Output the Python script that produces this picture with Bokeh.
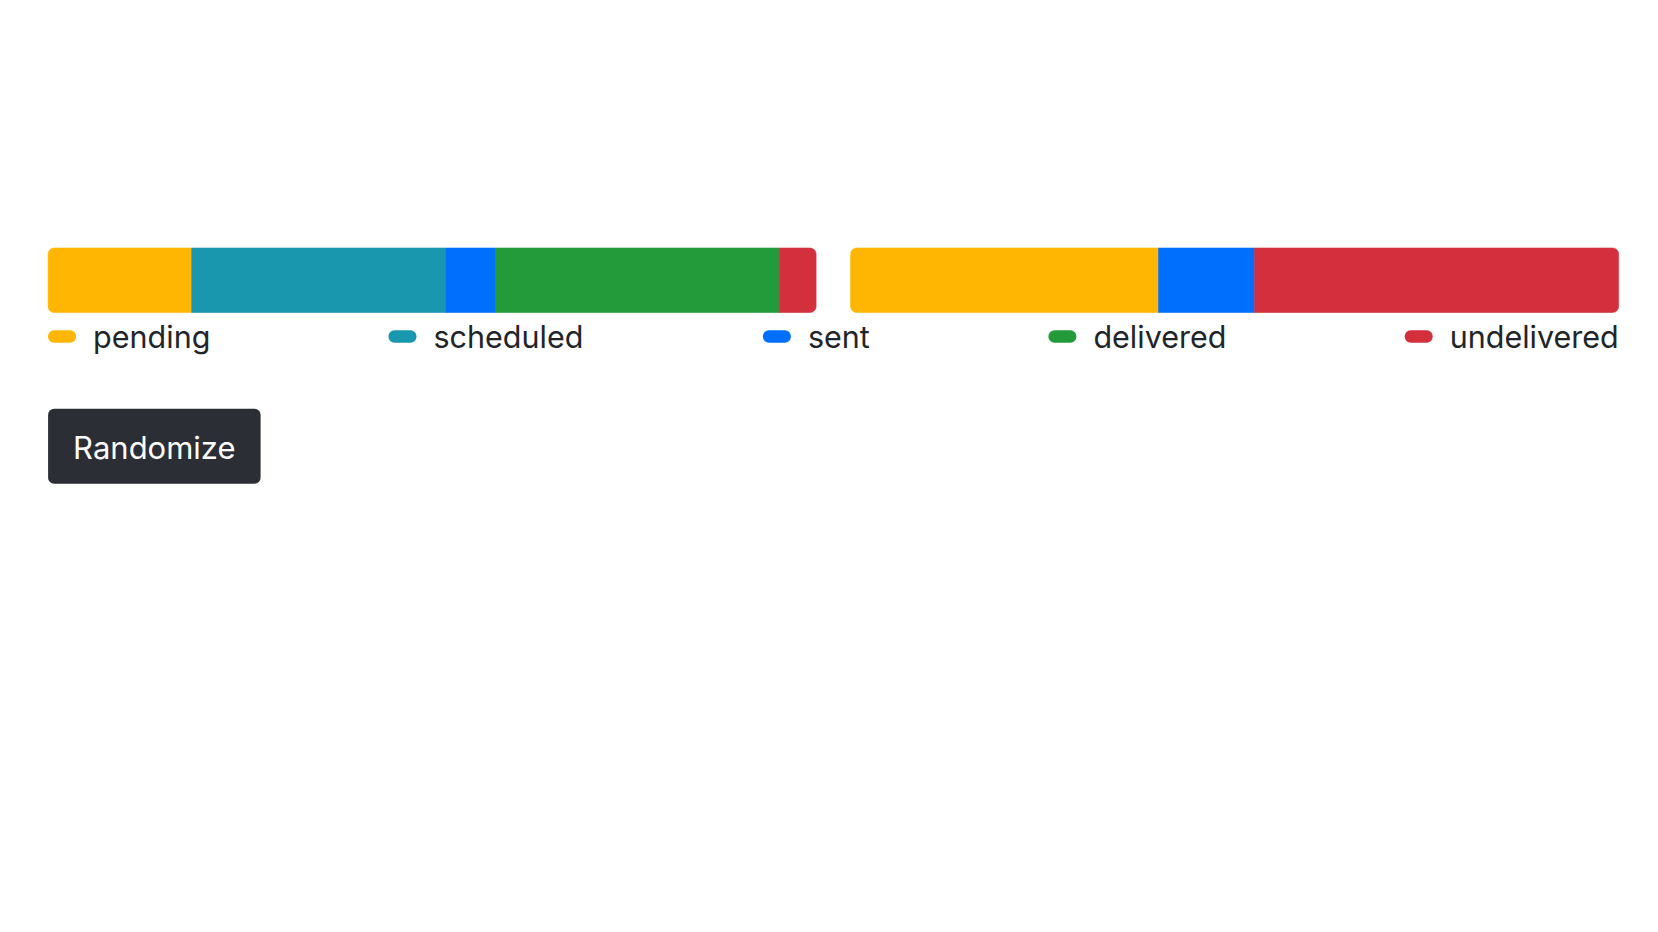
from bokeh.plotting import figure
from bokeh.models import Range1d, ColumnDataSource
from bokeh.core.properties import value
from bokeh.embed import file_html
from bokeh.resources import INLINE
import numpy as np

# ---- data ----
statuses = ["pending", "scheduled", "sent", "delivered", "undelivered"]
colors = ["#FEB602", "#1897AE", "#006FFD", "#239B3B", "#D32F3C"]
batch_a = [18.7, 33.1, 6.5, 36.9, 4.8]
batch_b = [40.1, 0.0, 12.5, 0.0, 47.4]
batches = [batch_a, batch_b]
button_label = "Randomize"

# ---- layout (pixels) ----
W, H = 1658, 932
bar_lefts = [47.6, 850.1]
bar_width = 768.0
bar_top, bar_bottom = 247.5, 312.0
radius = 6
legend_x = [47.6, 388.0, 762.4, 1047.9, 1404.2]
legend_y = 336.0
marker_w, marker_h = 28.0, 12.5
text_gap = 45.0
btn_left, btn_right, btn_top, btn_bottom = 47.6, 260.1, 408.2, 483.2

p = figure(width=W, height=H, output_backend="svg", toolbar_location=None,
           x_range=Range1d(0, W), y_range=Range1d(H, 0),
           x_axis_location=None, y_axis_location=None, min_border=0)
p.grid.visible = False
p.outline_line_color = None
p.background_fill_color = "white"
p.border_fill_color = "white"

for i, vals in enumerate(batches):
    total = float(sum(vals))
    left_px = bar_lefts[i]
    name = f"bar{i}"
    p.extra_x_ranges[name] = Range1d(-left_px / bar_width * total,
                                     (W - left_px) / bar_width * total)
    v = np.array(vals)
    right = np.cumsum(v)
    left = right - v
    nz = [k for k in range(len(v)) if v[k] > 0]
    for k in nz:
        if k == nz[0] and k == nz[-1]:
            br = radius
        elif k == nz[0]:
            br = (radius, 0, 0, radius)
        elif k == nz[-1]:
            br = (0, radius, radius, 0)
        else:
            br = 0
        p.quad(left=[left[k]], right=[right[k]], top=[bar_top], bottom=[bar_bottom],
               fill_color=colors[k], line_color=colors[k], line_width=0.6,
               x_range_name=name, border_radius=br)

# legend
for k, s in enumerate(statuses):
    x0 = legend_x[k]
    p.quad(left=[x0], right=[x0 + marker_w], top=[legend_y - marker_h / 2],
           bottom=[legend_y + marker_h / 2], fill_color=colors[k], line_color=None,
           border_radius=int(marker_h / 2))
src = ColumnDataSource(dict(x=[x + text_gap for x in legend_x], y=[legend_y] * 5, t=statuses))
p.text(x="x", y="y", text="t", source=src, text_font=value("Inter"),
       text_font_size="30.5px", text_baseline="middle", text_align="left",
       text_color="#212529")

# button
p.quad(left=[btn_left], right=[btn_right], top=[btn_top], bottom=[btn_bottom],
       fill_color="#2B2E35", line_color=None, border_radius=6)
p.text(x=[(btn_left + btn_right) / 2], y=[(btn_top + btn_bottom) / 2 + 1], text=[button_label],
       text_font=value("Inter"), text_font_size="31px", text_baseline="middle",
       text_align="center", text_color="white")

open("out.html", "w").write(file_html(p, INLINE))
